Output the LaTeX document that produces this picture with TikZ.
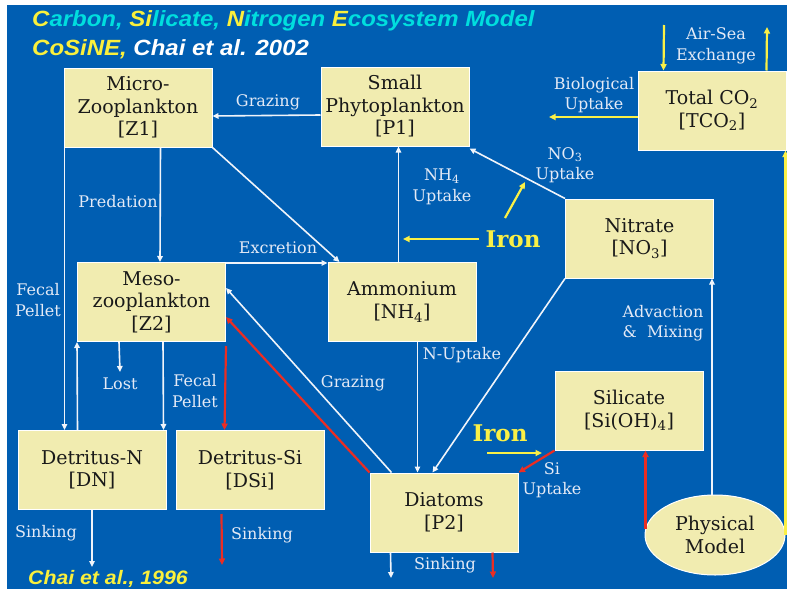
\documentclass[tikz,border=0pt]{standalone}
\usepackage{fontspec}
\setmainfont{DejaVu Serif}
\newfontfamily\titlefont[FakeStretch=1.09]{Liberation Sans}
\usetikzlibrary{arrows.meta,shapes.geometric}
\definecolor{bg}{RGB}{0,94,178}
\definecolor{boxfill}{RGB}{241,236,176}
\definecolor{lbl}{RGB}{228,234,246}
\definecolor{ylw}{RGB}{250,240,70}
\definecolor{tyel}{RGB}{250,240,60}
\definecolor{tcyan}{RGB}{0,222,222}
\definecolor{rd}{RGB}{235,45,35}
\definecolor{wln}{RGB}{240,244,250}
\begin{document}
\begin{tikzpicture}[x=1pt,y=-1pt,
 box/.style={draw=white,line width=1pt,fill=boxfill,minimum width=148pt,minimum height=79pt,inner sep=0pt,align=center,font=\fontsize{19}{22.5}\selectfont,text=black!90},
 lab/.style={text=lbl,align=center,font=\fontsize{16}{20.5}\selectfont,inner sep=1pt},
 iron/.style={text=ylw,font=\bfseries\fontsize{23}{26}\selectfont,inner sep=0pt},
 ttl/.style={anchor=base west,inner sep=0pt,font=\titlefont\bfseries\itshape\fontsize{22}{26}\selectfont},
 wa/.style={draw=wln,line width=1.6pt,-{Triangle[length=6pt,width=5.5pt]}},
 ra/.style={draw=rd,line width=2.2pt,-{Triangle[length=6.5pt,width=6pt]}},
 ya/.style={draw=ylw,line width=2.2pt,-{Triangle[length=6.5pt,width=6pt]}},
]
\useasboundingbox (0,0) rectangle (787,589);
\fill[white] (0,0) rectangle (787,589);
\fill[bg] (7,5) rectangle (787,589);

% titles
\node[ttl] (t1) at (32,26) {\textcolor{tyel}{C}\textcolor{tcyan}{arbon, }\textcolor{tyel}{Si}\textcolor{tcyan}{licate, }\textcolor{tyel}{N}\textcolor{tcyan}{itrogen }\textcolor{tyel}{E}\textcolor{tcyan}{cosystem Model}};
\node[ttl] (t2) at (32,55) {\textcolor{tyel}{CoSiNE,} \textcolor{white}{Chai et al. 2002}};
\node[ttl,font=\titlefont\bfseries\itshape\fontsize{19.5}{22}\selectfont] (t3) at (28,584) {\textcolor{tyel}{Chai et al., 1996}};

% boxes
\node[box] (Z1) at (138,107.5) {Micro-\\Zooplankton\\{}[Z1]};
\node[box] (P1) at (395,106.5) {Small\\Phytoplankton\\{}[P1]};
\node[box] (TCO2) at (712,110.5) {Total CO\textsubscript{2}\\{}[TCO\textsubscript{2}]};
\node[box] (NO3) at (639.5,238.5) {Nitrate\\{}[NO\textsubscript{3}]};
\node[box] (Z2) at (151.5,302) {Meso-\\zooplankton\\{}[Z2]};
\node[box] (NH4) at (402,302) {Ammonium\\{}[NH\textsubscript{4}]};
\node[box] (Si) at (629,410.5) {Silicate\\{}[Si(OH)\textsubscript{4}]};
\node[box] (DN) at (92,470) {Detritus-N\\{}[DN]};
\node[box] (DSi) at (250,470) {Detritus-Si\\{}[DSi]};
\node[box] (P2) at (444,512.5) {Diatoms\\{}[P2]};
\node[ellipse,draw=white,line width=1pt,fill=boxfill,minimum width=140pt,minimum height=80pt,inner sep=0pt,align=center,font=\fontsize{19}{22.5}\selectfont,text=black!90] (PM) at (715,535) {Physical\\Model};

% iron
\node[iron] (Fe1) at (513,239) {Iron};
\node[iron] (Fe2) at (500,433) {Iron};

% free ends
\coordinate (fe1end) at (403,239);
\coordinate (fe1b) at (505,218);
\coordinate (fe1c) at (525,182);
\coordinate (fe2a) at (487,453);
\coordinate (fe2b) at (542,453);
\coordinate (lost) at (120,372);
\coordinate (dnsink) at (92,567);
\coordinate (dsisink) at (222,565);
\coordinate (p2sinkw) at (391,578);
\coordinate (p2sinkr) at (493,578);
\coordinate (bio) at (549,117);
\coordinate (airin) at (664,25);
\coordinate (airout) at (767,27);

% white connectors
\draw[wa] ([yshift=-8.5pt]P1.west) -- ([yshift=-8.5pt]Z1.east);
\draw[wa] ([xshift=97pt]Z1.south west) -- ([xshift=83pt]Z2.north west);
\draw[wa] ([xshift=1pt]Z1.south west) -- ([xshift=47pt]DN.north west);
\draw[wa] (Z1.south east) -- ([xshift=12pt]NH4.north west);
\draw[wa] ([yshift=-1pt]Z2.north east) -- ([yshift=-1pt]NH4.north west);
\draw[wa] ([xshift=71pt]NH4.north west) -- ([xshift=78pt]P1.south west);
\draw[wa] (NO3.north west) -- ([yshift=-2pt]P1.south east);
\draw[wa] ([xshift=90pt]NH4.south west) -- ([xshift=48pt]P2.north west);
\draw[wa] (NO3.south west) -- ([xshift=63pt]P2.north west);
\draw[wa] ([xshift=22pt]P2.north west) -- ([yshift=-26pt]Z2.north east);
\draw[wa] ([xshift=42pt]Z2.south west) -- (lost);
\draw[wa] ([xshift=60pt]DN.north west) -- ([xshift=0pt]Z2.south west);
\draw[wa] ([xshift=86pt]Z2.south west) -- ([xshift=146pt]DN.north west);
\draw[wa] (DN.south) -- (dnsink);
\draw[wa] ([xshift=21pt]P2.south west) -- (p2sinkw);
\draw[wa] ([xshift=-3pt]PM.north) -- ([xshift=-3pt]PM.north |- NO3.south);

% red connectors
\draw[ra] (P2.north west) -- ([yshift=-55pt]Z2.north east);
\draw[ra] ([yshift=-4pt]Z2.south east) -- ([xshift=49pt]DSi.north west);
\draw[ra] ([xshift=46pt,yshift=-4pt]DSi.south west) -- (dsisink);
\draw[ra] ([xshift=123pt]P2.south west) -- (p2sinkr);
\draw[ra] (Si.south west) -- (P2.north east);
\draw[ra] ([xshift=1pt,yshift=6pt]PM.west) -- ([xshift=1pt]PM.west |- Si.south);

% yellow connectors
\draw[ya] (Fe1.west) ++(-6pt,0) -- (fe1end);
\draw[ya] (fe1b) -- (fe1c);
\draw[ya] (fe2a) -- (fe2b);
\draw[ya] (PM.east) -- (PM.east |- TCO2.south);
\draw[ya] ([yshift=-6.5pt]TCO2.west) -- (bio);
\draw[ya] (airin) -- ([xshift=26pt]TCO2.north west);
\draw[ya] ([xshift=129pt]TCO2.north west) -- (airout);

% labels
\node[lab] (lGraz1) at (268,102) {Grazing};
\node[lab] (lPred) at (118,202) {Predation};
\node[lab] (lFecal1) at (38,300) {Fecal\\Pellet};
\node[lab] (lExc) at (278,248) {Excretion};
\node[lab] (lNH4) at (442,187) {NH\textsubscript{4}\\Uptake};
\node[lab] (lNO3) at (565,165) {NO\textsubscript{3}\\Uptake};
\node[lab] (lBio) at (594,95) {Biological\\Uptake};
\node[lab] (lAir) at (716,46) {Air-Sea\\Exchange};
\node[lab] (lAdv) at (663,323) {Advaction\\\& \ Mixing};
\node[lab] (lNup) at (462,355) {N-Uptake};
\node[lab] (lGraz2) at (353,383) {Grazing};
\node[lab] (lLost) at (120,384) {Lost};
\node[lab] (lFecal2) at (195,391) {Fecal\\Pellet};
\node[lab] (lSiU) at (552,480) {Si\\Uptake};
\node[lab] (lSink1) at (46,533) {Sinking};
\node[lab] (lSink2) at (262,535) {Sinking};
\node[lab] (lSink3) at (445,565) {Sinking};
\end{tikzpicture}
\end{document}
